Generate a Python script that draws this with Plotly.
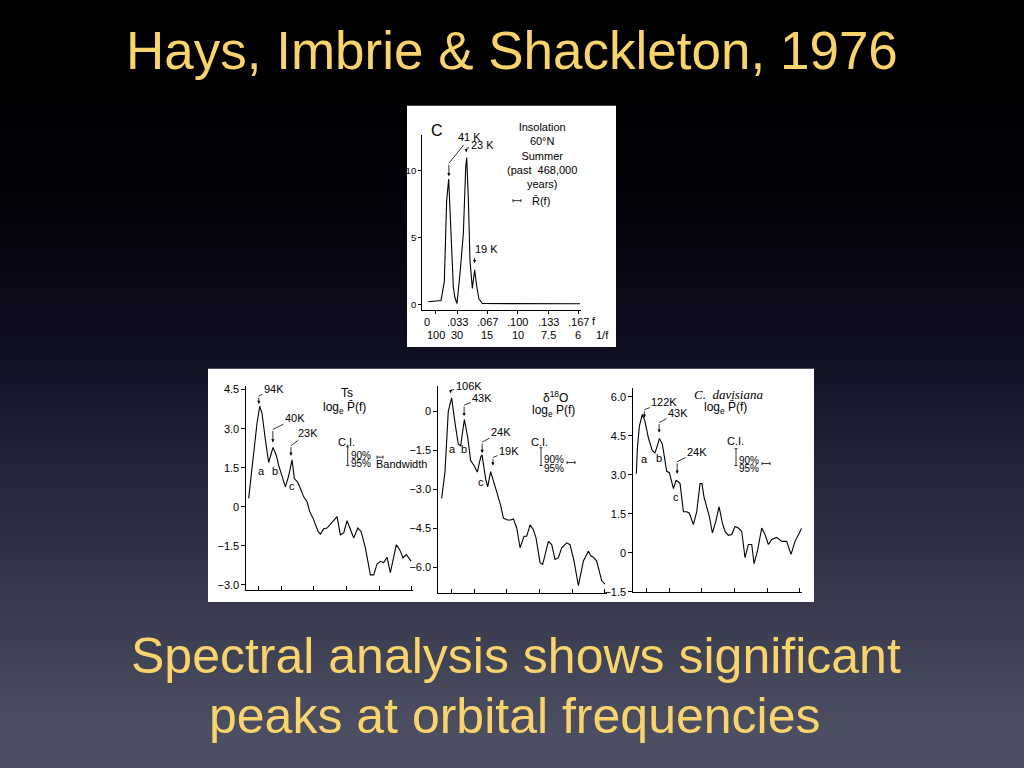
import plotly.graph_objects as go

W, H = 1024, 768

# ---------------- data ----------------
# Panel C (top): insolation 60N summer spectrum
insol_f = [0.0018, 0.0158, 0.0194, 0.0220, 0.0242, 0.0267, 0.0293, 0.0311, 0.0333, 0.0366,
           0.0403, 0.0429, 0.0440, 0.0458, 0.0476, 0.0502, 0.0527, 0.0549, 0.0575, 0.0612, 0.1685]
insol_p = [0.2, 0.3, 1.7, 7.8, 9.4, 5.8, 1.3, 0.5, 0.07, 2.3,
           5.3, 10.3, 11.0, 7.9, 3.3, 1.2, 2.6, 1.4, 0.4, 0.07, 0.05]

# Ts  log_e P(f)
ts_f = [0.0003, 0.0054, 0.0088, 0.0116, 0.0139, 0.0173, 0.0207, 0.0252, 0.0286, 0.0310,
        0.0333, 0.0378, 0.0412, 0.0446, 0.0469, 0.0503, 0.0531, 0.0565, 0.0599, 0.0626,
        0.0660, 0.0687, 0.0711, 0.0735, 0.0769, 0.0803, 0.0837, 0.0864, 0.0905, 0.0939,
        0.0973, 0.1007, 0.1034, 0.1075, 0.1116, 0.1150, 0.1194, 0.1245, 0.1279, 0.1313,
        0.1347, 0.1381, 0.1415, 0.1449, 0.1510, 0.1544, 0.1578, 0.1612, 0.1660]
ts_p = [0.32, 2.09, 3.2, 3.86, 3.6, 2.6, 1.7, 2.28, 1.96, 1.58,
        1.33, 0.76, 1.2, 1.8, 1.08, 0.95, 0.7, 0.38, 0.19, -0.19,
        -0.44, -0.7, -0.95, -1.05, -0.85, -0.82, -0.67, -0.54, -0.38, -1.08,
        -1.01, -0.54, -0.82, -1.2, -0.82, -0.95, -1.58, -2.62, -2.62, -2.2,
        -2.1, -2.15, -1.94, -2.53, -1.46, -1.65, -1.96, -1.84, -2.09]

# delta 18O  log_e P(f)
o18_f = [0.0003, 0.0037, 0.0071, 0.0105, 0.0139, 0.0173, 0.0197, 0.0235, 0.0269, 0.0299,
         0.0333, 0.0367, 0.0401, 0.0415, 0.0452, 0.0473, 0.0503, 0.0531, 0.0571, 0.0605,
         0.0633, 0.0673, 0.0707, 0.0735, 0.0769, 0.0803, 0.0844, 0.0871, 0.0905, 0.0939,
         0.0966, 0.1007, 0.1034, 0.1068, 0.1092, 0.1126, 0.1160, 0.1194, 0.1228, 0.1279,
         0.1313, 0.1354, 0.1398, 0.1449, 0.1500, 0.1527, 0.1551, 0.1585, 0.1636, 0.1670]
o18_p = [-3.35, -2.34, 0.0, 0.51, -0.44, -1.27, -1.33, -0.32, -1.01, -1.9,
         -2.09, -2.34, -1.77, -1.68, -2.6, -2.91, -2.32, -2.66, -3.23, -3.61,
         -4.11, -4.18, -4.18, -4.14, -4.49, -5.25, -4.81, -4.81, -4.37, -4.56,
         -4.87, -5.82, -5.89, -5.38, -5.0, -5.13, -5.7, -5.63, -5.25, -5.06,
         -5.13, -5.76, -6.71, -5.76, -5.38, -5.57, -5.61, -5.76, -6.52, -6.65]

# C. davisiana  log_e P(f)
cd_f = [0.0, 0.0010, 0.0031, 0.0061, 0.0088, 0.0122, 0.0163, 0.0190, 0.0214, 0.0235,
        0.0265, 0.0286, 0.0310, 0.0337, 0.0361, 0.0378, 0.0405, 0.0422, 0.0446, 0.0463,
        0.0480, 0.0514, 0.0541, 0.0582, 0.0616, 0.0650, 0.0670, 0.0690, 0.0718, 0.0745,
        0.0776, 0.0810, 0.0844, 0.0878, 0.0905, 0.0939, 0.0973, 0.1007, 0.1041, 0.1075,
        0.1109, 0.1143, 0.1177, 0.1201, 0.1235, 0.1279, 0.1313, 0.1347, 0.1381, 0.1432,
        0.1483, 0.1534, 0.1578, 0.1619, 0.1670, 0.1687]
cd_p = [3.04, 3.99, 4.87, 5.32, 5.06, 4.43, 3.92, 3.84, 4.11, 4.39,
        4.18, 3.73, 3.13, 3.08, 2.78, 2.47, 2.78, 2.75, 2.66, 2.15,
        1.58, 1.58, 1.52, 1.08, 1.58, 2.66, 2.66, 2.15, 1.71, 1.39,
        0.76, 1.2, 1.77, 1.14, 0.82, 0.67, 0.7, 1.01, 0.95, 0.82,
        -0.19, 0.32, 0.32, -0.42, 0.06, 0.95, 0.7, 0.32, 0.51, 0.59,
        0.44, 0.44, -0.06, 0.44, 0.82, 0.95]

# tick labels
top_f_labels = ["0", ".033", ".067", ".100", ".133", ".167"]
top_f_vals = [0, 1 / 30, 1 / 15, 0.1, 2 / 15, 1 / 6]
top_period_labels = ["100", "30", "15", "10", "7.5", "6"]
freq_tick_vals = [1 / float(p) for p in top_period_labels]

ts_ticks = [-3.0, -1.5, 0, 1.5, 3.0, 4.5]
o18_ticks = [-6.0, -4.5, -3.0, -1.5, 0]
cd_ticks = [-1.5, 0, 1.5, 3.0, 4.5, 6.0]

# peak labels: (text, period in kyr, arrow tip value, vertical arrow px, text dx, text dy)
insol_peaks = [("41 K", 41, 9.6, 13, 21, -26), ("23 K", 23, 11.4, 4, 16, -3), ("19 K", 19, 3.1, 7, 12, -7)]
ts_peaks = [("94K", 94, 3.95, 8, 15, -7), ("40K", 40, 2.47, 13, 22, -11), ("23K", 23, 1.96, 10, 17, -13)]
o18_peaks = [("106K", 106, 0.69, 3, 18, -4), ("43K", 43, -0.19, 11, 18, -7),
             ("24K", 24, -1.61, 11, 19, -10), ("19K", 19, -2.09, 8, 16, -7)]
cd_peaks = [("122K", 122, 5.19, 8, 20, -8), ("43K", 43, 4.62, 10, 19, -10), ("24K", 24, 3.04, 12, 20, -10)]

# ---------------- helpers ----------------
FONT = "Liberation Sans, Arial, Helvetica, sans-serif"
SERIF = "Liberation Serif, Times New Roman, serif"
YEL = "#F9D46C"
FS = 11
GRAD = [[0, "#000000"], [0.25, "#020208"], [0.43, "#0c0c1e"],
        [0.62, "#23253a"], [0.95, "#4b4d60"], [1, "#4d4f62"]]


def px(x):
    return x / W


def py(y):
    return 1 - y / H


def txt(text, x, y, size=FS, xanchor="center", color="black", family=FONT):
    return dict(text=text, x=px(x), y=py(y), xref="paper", yref="paper", showarrow=False,
                xanchor=xanchor, yanchor="middle", font=dict(size=size, color=color, family=family))


def peak_anns(p, xr, yr, size=FS):
    text, period, tip, bend, dx, dy = p
    out = [dict(text="", x=1 / period, y=tip, xref=xr, yref=yr, showarrow=True,
                arrowhead=2, arrowsize=0.8, arrowwidth=0.8, arrowcolor="black",
                ax=0, ay=-bend, standoff=0)]
    out.append(dict(text=text, x=1 / period, y=tip, yshift=bend, xref=xr, yref=yr, showarrow=True,
                    arrowhead=0, arrowwidth=0.8, arrowcolor="black", ax=dx, ay=dy,
                    standoff=0, startstandoff=0, font=dict(size=size, color="black", family=FONT)))
    return out


fig = go.Figure()

# background gradient (heatmap on a hidden full-page axis)
rows = list(range(-8, H + 12, 4))
fig.add_trace(go.Heatmap(
    x=[-10, W + 10], y=rows, z=[[r, r] for r in rows], zmin=0, zmax=H,
    colorscale=GRAD, showscale=False, hoverinfo="skip", xaxis="x", yaxis="y"))

# white figure panels
for (x0, y0, x1, y1) in [(407, 104, 616, 348), (208, 370, 814, 606)]:
    fig.add_trace(go.Scatter(x=[x0, x1, x1, x0, x0], y=[y0, y0, y1, y1, y0], mode="lines",
                             fill="toself", fillcolor="white", line=dict(width=0),
                             hoverinfo="skip", xaxis="x", yaxis="y", showlegend=False))

line = dict(color="black", width=1.1)
fig.add_trace(go.Scatter(x=insol_f, y=insol_p, mode="lines", line=line, xaxis="x2", yaxis="y2", showlegend=False))
fig.add_trace(go.Scatter(x=ts_f, y=ts_p, mode="lines", line=line, xaxis="x3", yaxis="y3", showlegend=False))
fig.add_trace(go.Scatter(x=o18_f, y=o18_p, mode="lines", line=line, xaxis="x4", yaxis="y4", showlegend=False))
fig.add_trace(go.Scatter(x=cd_f, y=cd_p, mode="lines", line=line, xaxis="x5", yaxis="y5", showlegend=False))


def ax_common(**kw):
    d = dict(showgrid=False, zeroline=False, showline=True, linecolor="black", linewidth=1,
             ticks="outside", ticklen=4, tickcolor="black", tickwidth=1,
             tickfont=dict(size=FS, color="black", family=FONT), fixedrange=True)
    d.update(kw)
    return d


def fmt(v):
    return "0" if v == 0 else ("\u2212%.1f" % abs(v) if v < 0 else "%.1f" % v)


layout = dict(
    width=W, height=H, margin=dict(l=0, r=0, t=0, b=0),
    paper_bgcolor="rgba(0,0,0,0)", plot_bgcolor="rgba(0,0,0,0)", showlegend=False,
    xaxis=dict(domain=[0, 1], range=[0, W], visible=False, fixedrange=True),
    yaxis=dict(domain=[0, 1], range=[H, 0], visible=False, fixedrange=True),
    # top insolation panel
    xaxis2=ax_common(domain=[px(422.1), px(580.5)], range=[-0.005, 0.169], anchor="y2",
                     tickvals=freq_tick_vals, showticklabels=False, ticklen=3),
    yaxis2=ax_common(domain=[py(311.1), py(133.5)], range=[-0.45, 12.7], anchor="x2",
                     tickvals=[0, 5, 10], ticktext=["0", "5", "10"], ticklen=3,
                     tickfont=dict(size=9.5, color="black", family=FONT)),
    # Ts panel
    xaxis3=ax_common(domain=[px(246.4), px(413.0)], range=[-0.002, 0.168], anchor="y3",
                     tickvals=freq_tick_vals, showticklabels=False, ticks="inside"),
    yaxis3=ax_common(domain=[py(594.2), py(387.8)], range=[-3.21, 4.63], anchor="x3",
                     tickvals=ts_ticks, ticktext=[fmt(v) for v in ts_ticks]),
    # d18O panel
    xaxis4=ax_common(domain=[px(438.3), px(606.7)], range=[-0.0031, 0.1687], anchor="y4",
                     tickvals=freq_tick_vals, showticklabels=False, ticks="inside"),
    yaxis4=ax_common(domain=[py(597.3), py(388.0)], range=[-7.0, 0.95], anchor="x4",
                     tickvals=o18_ticks, ticktext=[fmt(v) for v in o18_ticks]),
    # C. davisiana panel
    xaxis5=ax_common(domain=[px(633.3), px(801.7)], range=[-0.0031, 0.1687], anchor="y5",
                     tickvals=freq_tick_vals, showticklabels=False, ticks="inside"),
    yaxis5=ax_common(domain=[py(595.8), py(389.4)], range=[-1.5, 6.34], anchor="x5",
                     tickvals=cd_ticks, ticktext=[fmt(v) for v in cd_ticks]),
)
fig.update_layout(**layout)

ann = []
# slide text
ann.append(txt("Hays, Imbrie & Shackleton, 1976", 512, 48, size=53, color=YEL))
ann.append(txt("Spectral analysis shows significant", 516, 661, size=50, color=YEL))
ann.append(txt("peaks at orbital frequencies", 514, 721, size=50, color=YEL))

# top panel texts
ann.append(txt("C", 437, 129, size=16))
ann.append(txt("Insolation<br>60°N<br>Summer<br>(past  468,000<br>years)", 542, 154, size=FS))
ann.append(txt("R\u0304(f)", 541, 200, size=FS))
for lab, v in zip(top_f_labels, top_f_vals):
    ann.append(dict(text=lab, x=v, y=py(322.7), xref="x2", yref="paper", showarrow=False,
                    font=dict(size=FS, color="black", family=FONT)))
for lab, v in zip(top_period_labels, freq_tick_vals):
    ann.append(dict(text=lab, x=v, y=py(335.5), xref="x2", yref="paper", showarrow=False,
                    font=dict(size=FS, color="black", family=FONT)))
ann.append(txt("f", 594, 321.7, size=FS))
ann.append(txt("1/f", 602, 335.5, size=FS))
for p in insol_peaks:
    ann += peak_anns(p, "x2", "y2")

# Ts panel
for p in ts_peaks:
    ann += peak_anns(p, "x3", "y3")
ann += [txt("a", 261, 474), txt("b", 275, 474), txt("c", 292, 489)]
ann.append(txt("Ts", 347, 395, size=12))
ann.append(txt("log<sub>e</sub> P\u0304(f)", 344, 410, size=12))
ann.append(txt("C.I.", 346, 444))
ann.append(txt("90%", 349, 457.5, size=10, xanchor="left"))
ann.append(txt("95%", 349, 466, size=10, xanchor="left"))
ann.append(txt("Bandwidth", 374, 466, xanchor="left"))

# d18O panel
for p in o18_peaks:
    ann += peak_anns(p, "x4", "y4")
ann += [txt("a", 452, 451), txt("b", 464, 451), txt("c", 481, 485)]
ann.append(txt("δ<sup>18</sup>O", 555, 399, size=12))
ann.append(txt("log<sub>e</sub> P(f)", 553, 412.5, size=12))
ann.append(txt("C.I.", 539, 444))
ann.append(txt("90%", 542, 461.5, size=10, xanchor="left"))
ann.append(txt("95%", 542, 471, size=10, xanchor="left"))

# C. davisiana panel
for p in cd_peaks:
    ann += peak_anns(p, "x5", "y5")
ann += [txt("a", 644, 461), txt("b", 659, 460), txt("c", 676, 500)]
ann.append(txt("<i>C.  davisiana</i>", 728, 396, size=13, family=SERIF))
ann.append(txt("log<sub>e</sub> P\u0304(f)", 725, 409.5, size=12))
ann.append(txt("C.I.", 735, 443))
ann.append(txt("90%", 737, 462.5, size=10, xanchor="left"))
ann.append(txt("95%", 737, 471, size=10, xanchor="left"))

shapes = []
BL = dict(color="black", width=0.8)


def seg(x0, y0, x1, y1):
    return dict(type="line", xref="paper", yref="paper", x0=px(x0), x1=px(x1),
                y0=py(y0), y1=py(y1), line=BL)


# confidence interval bars (vertical with small caps)
for (x, y0, y1) in [(347.7, 449, 468), (541, 450, 468), (736, 451, 468)]:
    shapes.append(seg(x, y0, x, y1))
    shapes.append(seg(x - 1.5, y0, x + 1.5, y0))
    shapes.append(seg(x - 1.5, y1, x + 1.5, y1))
# bandwidth bars (horizontal with end ticks)
for (x0, x1, y) in [(513, 521, 200), (377, 383, 459.5), (567, 575, 465), (762, 770, 466)]:
    shapes.append(seg(x0, y, x1, y))
    shapes.append(seg(x0, y - 1.5, x0, y + 1.5))
    shapes.append(seg(x1, y - 1.5, x1, y + 1.5))

fig.update_layout(annotations=ann, shapes=shapes)

css_grad = "linear-gradient(to bottom," + ",".join("%s %d%%" % (c, round(s * 100)) for s, c in GRAD) + ")"
fig.write_html("out.html", config={"displayModeBar": False},
               post_script=("document.documentElement.style.margin='0px';"
                            "document.body.style.margin='0px';document.body.style.overflow='hidden';"
                            "document.body.style.minHeight='100vh';"
                            "document.documentElement.style.background='%s';"
                            "document.body.style.background='%s';") % (css_grad, css_grad))
